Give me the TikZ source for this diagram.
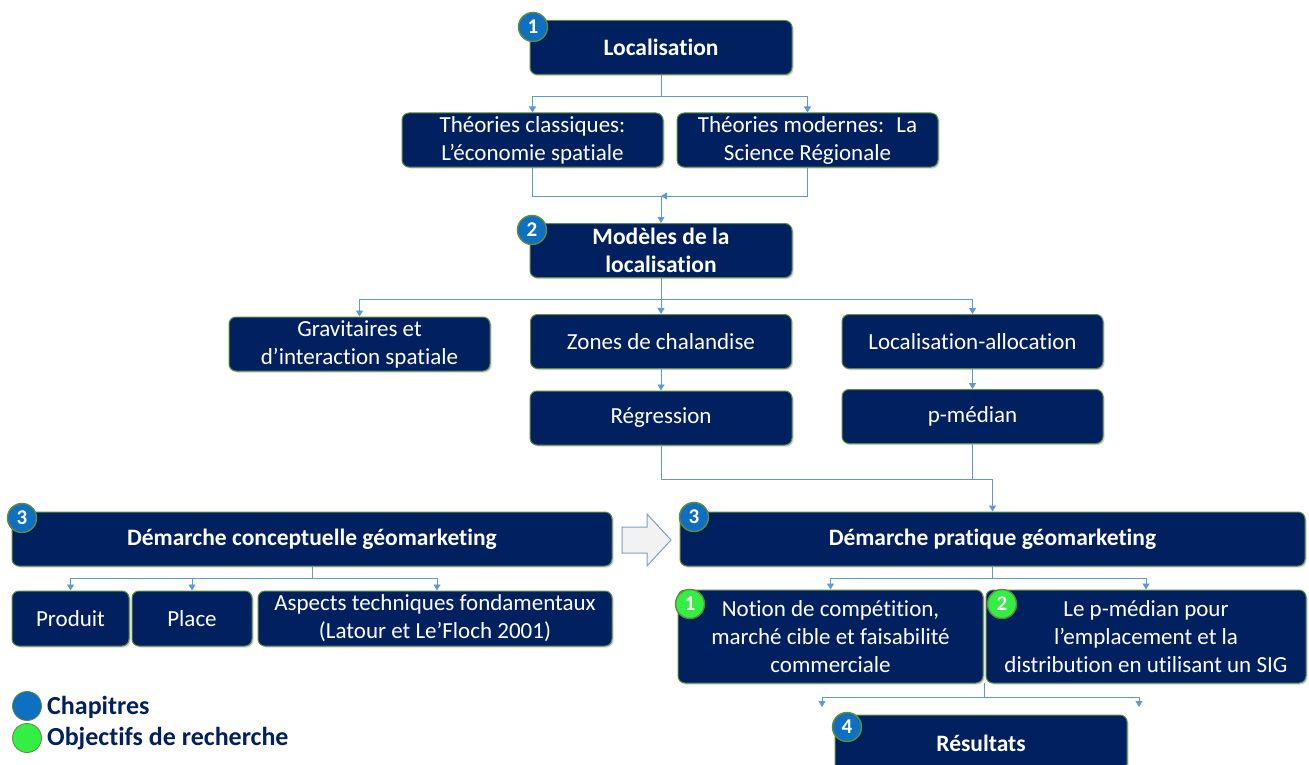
\documentclass[tikz,border=0pt]{standalone}
\usepackage{fontspec}
\setmainfont{Carlito}[Ligatures=NoCommon]
\usepackage{tikz}
\usetikzlibrary{arrows.meta}
\usetikzlibrary{shadows}

\definecolor{navy}{HTML}{002060}
\definecolor{boxedge}{HTML}{5E8C3A}
\definecolor{linkblue}{HTML}{5B9BD5}
\definecolor{badgeblue}{HTML}{0F6FC0}
\definecolor{badgegreen}{HTML}{33EE44}
\definecolor{arrowedge}{HTML}{7F9FC8}

\begin{document}
\begin{tikzpicture}[x=1pt, y=-1pt,
    box/.style={draw=boxedge, line width=1pt, fill=navy, rounded corners=7pt, text=white,
                align=center, inner sep=0pt, minimum height=54pt,
                font=\fontsize{23}{28}\selectfont,
                drop shadow={shadow xshift=1.5pt, shadow yshift=-1.5pt, opacity=0.35}},
    titlebox/.style={box, font=\fontsize{23.5}{28}\selectfont\bfseries},
    badge/.style={circle, draw=boxedge, line width=1.4pt, fill=badgeblue, text=white,
                  inner sep=0pt, minimum size=29pt, font=\fontsize{21}{21}\selectfont\bfseries},
    goal/.style={badge, fill=badgegreen},
    link/.style={draw=linkblue, line width=0.8pt},
    tip/.style={link, -{Triangle[width=7pt, length=6pt]}}]
    \useasboundingbox (0,0) rectangle (1309,765);
    \clip (0,0) rectangle (1309,765);
    \fill[white] (0,0) rectangle (1309,765);

    % top part
    \node[titlebox, minimum width=262pt] (loc) at (661,47.5) {Localisation};
    \node[box, minimum width=261pt] (theo1) at (532.5,140) {Théories classiques:\\L’économie spatiale};
    \node[box, minimum width=261pt] (theo2) at (807.5,140) {Théories modernes:~ La\\Science Régionale};
    \node[titlebox, minimum width=262pt] (mod) at (661,250.5) {Modèles de la\\localisation};
    \node[box, minimum width=261pt] (grav) at (359.5,344) {Gravitaires et\\d’interaction spatiale};
    \node[box, minimum width=261pt] (zones) at (661,341.5) {Zones de chalandise};
    \node[box, minimum width=261pt] (locall) at (972.5,341.5) {Localisation-allocation};
    \node[box, minimum width=262pt] (regr) at (661,418) {Régression};
    \node[box, minimum width=261pt] (pmed) at (972.5,416.5) {p-médian};

    % middle part
    \node[titlebox, minimum width=600pt] (dconc) at (312,539) {Démarche conceptuelle géomarketing};
    \node[titlebox, minimum width=625pt] (dprat) at (992.5,539) {Démarche pratique géomarketing};
    \draw[arrowedge, fill=gray!10, line width=1pt, line join=miter]
      (622,527) -- (647,527) -- (647,514) -- (671,540) -- (647,566) -- (647,553) -- (622,553) -- cycle;
    \node[box, minimum width=117pt, minimum height=55pt] (prod) at (70.5,618.5) {Produit};
    \node[box, minimum width=120pt, minimum height=55pt] (place) at (192,618.5) {Place};
    \node[box, minimum width=354pt, minimum height=55pt] (asp) at (435,618.5) {Aspects techniques fondamentaux\\(Latour et Le’Floch 2001)};
    \node[box, minimum width=305pt, minimum height=93pt] (notion) at (830.5,636.5) {Notion de compétition,\\marché cible et faisabilité\\commerciale};
    \node[box, minimum width=320pt, minimum height=93pt] (pmsig) at (1146,636.5) {Le p-médian pour\\l’emplacement et la\\distribution en utilisant un SIG};
    \node[titlebox, minimum width=292pt, minimum height=56pt] (res) at (981,743) {Résultats};

    % badges
    \node[badge] (b1) at (533,27) {1};
    \node[badge] (b2) at (532,230) {2};
    \node[badge] (b3a) at (22,518) {3};
    \node[badge] (b3b) at (694,517) {3};
    \node[badge] (b4) at (847,727) {4};
    \node[goal] (g1) at (690,604) {1};
    \node[goal] (g2) at (1002,604) {2};

    % connectors
    \draw[link] (loc.south) -- ++(0,21) coordinate (j1);
    \draw[tip] (j1) -| (theo1.north);
    \draw[tip] (j1) -| (theo2.north);
    \coordinate (j2) at (661,196);
    \draw[link] (theo1.south) |- (j2);
    \draw[tip] (theo2.south) |- (j2);
    \draw[tip] (j2) -- (mod.north);
    \draw[link] (mod.south) -- ++(0,21) coordinate (j3);
    \draw[tip] (j3) -| (grav.north);
    \draw[tip] (j3) -- (zones.north);
    \draw[tip] (j3) -| (locall.north);
    \draw[tip] (zones) -- (regr);
    \draw[tip] (locall) -- (pmed);
    \coordinate (j4) at (972.5,479);
    \draw[link] (regr.south) |- (j4);
    \draw[link] (pmed.south) -- (j4);
    \draw[tip] (j4) -| (dprat.north);
    \draw[link] (dconc.south) -- ++(0,12) coordinate (j5);
    \draw[tip] (j5) -| (prod.north);
    \draw[tip] (j5) -| (place.north);
    \draw[tip] (j5) -| ([xshift=2pt]asp.north);
    \draw[link] (dprat.south) -- ++(0,12) coordinate (j6);
    \draw[tip] (j6) -| (notion.north);
    \draw[tip] (j6) -| (pmsig.north);
    \coordinate (j7) at (984.5,683);
    \coordinate (left7) at (822,707);
    \coordinate (right7) at (1139,707);
    \draw[link] (j7) -- ++(0,14) coordinate (j8);
    \draw[tip] (j8) -| (left7);
    \draw[tip] (j8) -| (right7);

    % legend
    \node[circle, draw=boxedge, line width=0.8pt, fill=badgeblue, minimum size=29pt, inner sep=0pt] (lb) at (27,706) {};
    \node[circle, draw=boxedge, line width=0.8pt, fill=badgegreen, minimum size=29pt, inner sep=0pt] (lg) at (27,738) {};
    \node[anchor=west, text=navy, font=\fontsize{26}{26}\selectfont\bfseries, inner sep=0pt] (lbt) at (47,707) {Chapitres};
    \node[anchor=west, text=navy, font=\fontsize{26}{26}\selectfont\bfseries, inner sep=0pt] (lgt) at (47,739) {Objectifs de recherche};
\end{tikzpicture}
\end{document}
